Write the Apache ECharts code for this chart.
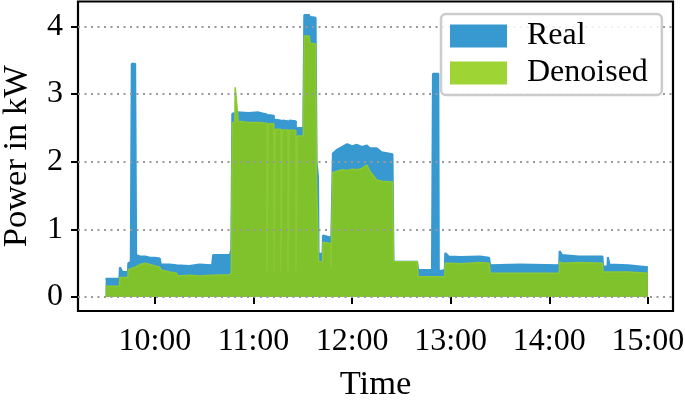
<!DOCTYPE html>
<html>
<head>
<meta charset="utf-8">
<script src="https://cdn.jsdelivr.net/npm/echarts@6/dist/echarts.min.js"></script>
<style>html,body{margin:0;padding:0;background:#fff}#c{width:685px;height:400px}</style>
</head>
<body>
<div id="c"></div>
<script>
// Time in decimal hours
const times = [9.50,9.64,9.645,9.665,9.67,9.726,9.73,9.755,9.765,9.80,9.81,9.85,9.90,9.95,10.00,10.05,10.06,10.15,10.22,10.23,10.35,10.45,10.58,10.59,10.76,10.775,10.785,10.81,10.815,10.835,10.845,10.95,11.05,
11.136,11.136,11.151,11.151,11.207,11.207,11.222,11.222,11.278,11.278,11.293,11.293,11.349,11.349,11.364,11.364,11.430,11.430,11.445,11.445,
11.505,11.515,11.565,11.575,11.585,11.63,11.64,11.655,11.66,11.70,11.705,11.78,11.785,11.80,11.805,11.85,11.90,11.95,12.00,12.05,12.10,12.15,12.18,12.25,12.30,12.41,12.42,12.66,12.67,12.81,12.82,12.875,12.88,12.94,12.945,12.98,13.10,13.30,13.39,13.40,13.70,14.10,14.105,14.13,14.30,14.54,14.545,14.59,14.595,14.61,14.80,15.00];
const real = [0.27,0.27,0.44,0.44,0.37,0.37,0.50,0.52,3.45,3.45,0.62,0.60,0.60,0.58,0.58,0.57,0.48,0.48,0.47,0.48,0.46,0.48,0.47,0.62,0.62,0.70,2.71,2.72,2.73,2.73,2.74,2.72,2.73,
2.70,0.42,0.42,2.69,2.68,0.42,0.42,2.62,2.61,0.42,0.42,2.61,2.60,0.42,0.42,2.61,2.60,0.42,0.42,2.50,
2.50,4.17,4.17,4.09,4.14,4.13,2.00,1.77,0.64,0.64,0.91,0.88,0.50,0.50,2.12,2.18,2.22,2.26,2.23,2.25,2.22,2.24,2.20,2.20,2.14,2.11,0.52,0.52,0.40,0.40,3.30,3.30,0.38,0.40,0.65,0.60,0.59,0.60,0.58,0.47,0.48,0.47,0.68,0.62,0.60,0.60,0.45,0.45,0.59,0.48,0.47,0.44];
const denoised = [0.16,0.16,0.29,0.29,0.29,0.29,0.40,0.42,0.43,0.44,0.45,0.48,0.50,0.48,0.46,0.44,0.40,0.37,0.35,0.31,0.32,0.31,0.32,0.32,0.33,0.36,2.58,2.58,3.10,3.12,2.60,2.58,2.58,
2.57,0.38,0.38,2.56,2.56,0.38,0.38,2.48,2.48,0.38,0.38,2.47,2.47,0.38,0.38,2.47,2.46,0.38,0.38,2.38,
2.38,3.86,3.86,3.75,3.75,3.74,1.70,1.68,0.52,0.52,0.81,0.79,0.45,0.45,1.84,1.86,1.88,1.87,1.89,1.88,1.90,1.95,1.86,1.73,1.71,1.70,0.52,0.52,0.30,0.30,0.30,0.30,0.30,0.30,0.50,0.50,0.49,0.51,0.50,0.35,0.35,0.35,0.52,0.50,0.51,0.50,0.37,0.37,0.37,0.37,0.37,0.35];
const xTicks = [10,11,12,13,14,15];
const yTicks = [0,1,2,3,4];

const FONT = 'Liberation Serif';
const chart = echarts.init(document.getElementById('c'), null, {renderer:'canvas'});
chart.setOption({
  animation: false,
  grid: {left:78, right:12, top:1.5, bottom:89, containLabel:false, outerBoundsMode:'none',
         show:true, borderColor:'#000', borderWidth:2.2, backgroundColor:'transparent'},
  legend: {
    orient:'vertical', left:441, top:14, icon:'rect', itemWidth:57, itemHeight:23, itemGap:5,
    padding:[6,14,6,9], borderColor:'#cccccc', borderWidth:2.5, borderRadius:5,
    backgroundColor:'rgba(255,255,255,0.85)',
    textStyle:{fontFamily:FONT, fontSize:32, color:'#000', lineHeight:31, padding:[0,0,0,15]},
    data:['Real','Denoised'], z:10
  },
  xAxis: {
    type:'value', min:9.22, max:15.255, name:'Time', nameLocation:'middle', nameGap:56,
    nameTextStyle:{fontFamily:FONT, fontSize:34.5, color:'#000'},
    axisLine:{show:false},
    axisTick:{show:true, customValues:xTicks, length:7, lineStyle:{color:'#000', width:2}},
    axisLabel:{customValues:xTicks, margin:15, fontFamily:FONT, fontSize:32, color:'#000', formatter:v=>v+':00'},
    splitLine:{show:false}
  },
  yAxis: {
    type:'value', min:-0.207, max:4.369, name:'Power in kW', nameLocation:'middle', nameGap:44,
    nameTextStyle:{fontFamily:FONT, fontSize:34.5, color:'#000'}, z:5,
    axisLine:{show:false},
    axisTick:{show:true, customValues:yTicks, length:7, lineStyle:{color:'#000', width:2}},
    axisLabel:{customValues:yTicks, margin:15, fontFamily:FONT, fontSize:32, color:'#000'},
    splitLine:{show:true, lineStyle:{color:'#999', width:1.8, type:[2,4.5]}}
  },
  series: [
    {name:'Real', type:'line', showSymbol:false, symbol:'none', z:2,
     data: times.map((t,i)=>[t, real[i]]),
     itemStyle:{color:'#3799d0'}, lineStyle:{color:'#3799d0', width:2},
     areaStyle:{color:'#3799d0', opacity:1, origin:'auto'}},
    {name:'Denoised', type:'line', showSymbol:false, symbol:'none', z:3,
     data: times.map((t,i)=>[t, denoised[i]]),
     itemStyle:{color:'#9fd435'}, lineStyle:{color:'#8cc832', width:1.5},
     areaStyle:{color:'#80c22c', opacity:1, origin:'auto'}}
  ]
});
</script>
</body>
</html>
